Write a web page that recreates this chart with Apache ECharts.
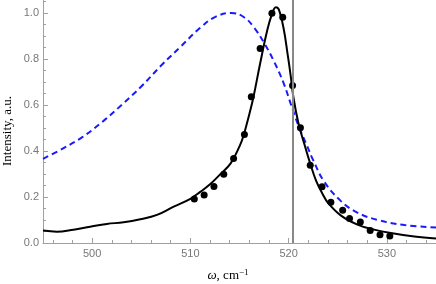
<!DOCTYPE html>
<html><head><meta charset="utf-8">
<script src="https://cdn.jsdelivr.net/npm/echarts@6/dist/echarts.min.js"></script>
<style>html,body{margin:0;padding:0;background:#fff}#c{width:436px;height:284px}</style>
</head><body><div id="c"></div>
<script>
// Broad dashed (blue) curve
const blueW = [495.0,497.0,499.0,501.0,503.0,505.0,507.0,509.0,511.0,512.5,514.2,515.5,516.5,517.5,518.5,519.5,520.2,521.0,521.8,522.5,523.6,525.3,527.0,529.1,531.8,535.0];
const blueI = [0.366,0.41,0.46,0.525,0.60,0.68,0.77,0.853,0.935,0.982,1.0,0.98,0.935,0.87,0.79,0.694,0.607,0.51,0.43,0.36,0.268,0.183,0.132,0.10,0.078,0.067];
// Solid (black) curve
const blackW = [495.0,496.4,498.1,499.8,501.5,503.2,504.9,506.6,508.3,510.0,511.0,512.0,513.0,514.1,515.0,515.4,516.0,516.4,517.1,517.8,518.3,518.7,519.0,519.5,519.9,520.2,520.5,521.0,521.6,522.2,522.8,523.5,524.0,525.3,527.0,528.7,530.4,532.8,535.0];
const blackI = [0.054,0.049,0.058,0.071,0.083,0.09,0.103,0.122,0.158,0.192,0.222,0.255,0.297,0.346,0.42,0.465,0.56,0.63,0.78,0.92,0.995,1.025,1.015,0.93,0.82,0.73,0.63,0.52,0.43,0.345,0.27,0.21,0.175,0.12,0.08,0.058,0.043,0.028,0.02];
// Measured points
const dotW = [510.4,511.4,512.4,513.4,514.4,515.5,516.2,517.1,518.3,519.4,520.4,521.2,522.2,523.4,524.3,525.5,526.2,527.3,528.3,529.3,530.3];
const dotI = [0.191,0.209,0.245,0.299,0.367,0.472,0.636,0.845,0.998,0.981,0.684,0.501,0.338,0.244,0.177,0.142,0.107,0.091,0.054,0.036,0.030];
// Reference line position
const refLineW = 520.4;
// Ticks
const xMajor = [500,510,520,530];
const xMinor = [496,498,502,504,506,508,512,514,516,518,522,524,526,528,532,534];
const yMajor = [0,0.2,0.4,0.6,0.8,1.0];
const yMinor = [0.05,0.1,0.15,0.25,0.3,0.35,0.45,0.5,0.55,0.65,0.7,0.75,0.85,0.9,0.95,1.05];

const zip = (a,b) => a.map((v,i)=>[v,b[i]]);
const axisCol = '#a0a0a0';
const labCol = '#777';
const chart = echarts.init(document.getElementById('c'), null, {renderer:'canvas'});
const xBase = {type:'value', min:495, max:535, gridIndex:0, position:'bottom',
  splitLine:{show:false}, axisLine:{show:true, lineStyle:{color:axisCol, width:1}}};
const yBase = {type:'value', min:0, max:1.056, gridIndex:0, position:'left',
  splitLine:{show:false}, axisLine:{show:true, lineStyle:{color:axisCol, width:1}}};
chart.setOption({
  animation:false,
  grid:{left:43, right:0, top:0, bottom:41},
  xAxis:[
    Object.assign({}, xBase, {
      axisTick:{show:true, inside:true, length:5, customValues:xMajor, lineStyle:{color:axisCol}},
      axisLabel:{show:true, customValues:xMajor, color:labCol, fontSize:11, fontFamily:'Liberation Sans', margin:5}
    }),
    Object.assign({}, xBase, {
      axisLine:{show:false},
      axisTick:{show:true, inside:true, length:3, customValues:xMinor, lineStyle:{color:axisCol}},
      axisLabel:{show:false}
    })
  ],
  yAxis:[
    Object.assign({}, yBase, {
      axisTick:{show:true, inside:true, length:5, customValues:yMajor, lineStyle:{color:axisCol}},
      axisLabel:{show:true, customValues:yMajor, color:labCol, fontSize:11, fontFamily:'Liberation Sans', margin:4,
        formatter:v=>Number(v).toFixed(1)}
    }),
    Object.assign({}, yBase, {
      axisLine:{show:false},
      axisTick:{show:true, inside:true, length:3, customValues:yMinor, lineStyle:{color:axisCol}},
      axisLabel:{show:false}
    })
  ],
  series:[
    {type:'line', xAxisIndex:0, yAxisIndex:0, data:zip(blueW,blueI), smooth:0.4, showSymbol:false,
     lineStyle:{color:'#1a1aff', width:2, type:[6,4]}},
    {type:'line', xAxisIndex:0, yAxisIndex:0, data:zip(blackW,blackI), smooth:0.4, showSymbol:false,
     lineStyle:{color:'#000', width:2},
     markLine:{silent:true, symbol:['none','none'], label:{show:false},
       lineStyle:{color:'#888', width:2, type:'solid'}, data:[{xAxis:refLineW}]}},
    {type:'scatter', xAxisIndex:0, yAxisIndex:0, data:zip(dotW,dotI), symbol:'circle', symbolSize:7,
     itemStyle:{color:'#000', opacity:1}}
  ],
  graphic:[
    {type:'text', x:8, y:131, rotation:Math.PI/2,
     style:{text:'Intensity, a.u.', font:'13px "Liberation Serif"', fill:'#000', align:'center', verticalAlign:'middle'}},
    {type:'text', x:228, y:276,
     style:{text:'{w|ω}{t|, cm}{s|−1}', align:'center', verticalAlign:'middle',
       rich:{w:{font:'italic 13px "Liberation Serif"', fill:'#000'},
             t:{font:'13px "Liberation Serif"', fill:'#000'},
             s:{font:'9px "Liberation Serif"', fill:'#000', verticalAlign:'top', padding:[0,0,6,0]}}}}
  ]
});
</script></body></html>
